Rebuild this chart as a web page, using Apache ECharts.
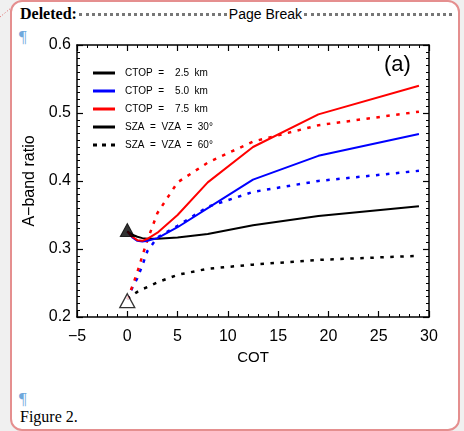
<!DOCTYPE html>
<html>
<head>
<meta charset="utf-8">
<script src="https://cdn.jsdelivr.net/npm/echarts@6/dist/echarts.min.js"></script>
<style>
  html, body { margin: 0; padding: 0; width: 464px; height: 431px; overflow: hidden; background: #f0f0f0; }
  #frame { position: absolute; left: 10px; top: 0; width: 450px; height: 431px; box-sizing: border-box;
           border: 2px solid #e58f8f; border-radius: 12px; background: #fff; }
  #link { position: absolute; left: 0; top: 0; }
  #del { position: absolute; left: 20px; top: 5px; width: 434px; display: flex; align-items: center;
         font: bold 16px "Liberation Serif", serif; color: #000; }
  #del .dots { flex: 1; height: 0; border-top: 3px dotted #777; margin: 0 2px; }
  #del .pb { font: 14px "Liberation Sans", Arial, sans-serif; font-weight: normal; }
  .pil { position: absolute; font: 17px "Liberation Serif", serif; color: #6fa8dc; }
  #cap { position: absolute; left: 20px; top: 408px; font: 16px "Liberation Serif", serif; color: #000; }
  #chart { position: absolute; left: 0; top: 0; width: 464px; height: 431px; }
</style>
</head>
<body>
<svg id="link" width="14" height="20"><line x1="0" y1="17" x2="11" y2="8" stroke="#e06060" stroke-width="1" stroke-dasharray="1,2"/></svg>
<div id="frame"></div>
<div id="del"><span>Deleted:</span><span class="dots"></span><span class="pb">Page Break</span><span class="dots"></span></div>
<div class="pil" style="left:19px;top:27px;">¶</div>
<div class="pil" style="left:19px;top:389px;">¶</div>
<div id="cap">Figure 2.</div>
<div id="chart"></div>
<script>
// Cloud optical thickness sampled along each curve
const cot = [0, 0.5, 1, 1.5, 2, 3, 5, 8, 12.5, 19, 29];

// A-band ratio, SZA = VZA = 30 deg
const ratio25_30 = [0.326, 0.321, 0.318, 0.316, 0.315, 0.315, 0.317, 0.322, 0.335, 0.3485, 0.363];
const ratio50_30 = [0.326, 0.317, 0.312, 0.311, 0.312, 0.316, 0.332, 0.360, 0.402, 0.437, 0.469];
const ratio75_30 = [0.326, 0.318, 0.313, 0.312, 0.315, 0.324, 0.350, 0.398, 0.450, 0.498, 0.540];

// A-band ratio, SZA = VZA = 60 deg
const ratio25_60 = [0.226, 0.232, 0.237, 0.241, 0.244, 0.251, 0.262, 0.271, 0.277, 0.284, 0.290];
const ratio50_60 = [0.226, 0.243, 0.257, 0.276, 0.297, 0.317, 0.334, 0.362, 0.384, 0.400, 0.415];
const ratio75_60 = [0.226, 0.245, 0.266, 0.290, 0.313, 0.353, 0.398, 0.427, 0.458, 0.482, 0.502];

// Clear-sky reference points (COT = 0)
const clearCot = [0];
const clear30 = [0.328];
const clear60 = [0.224];

// Legend entries
const legendLabels = ['CTOP  =    2.5  km', 'CTOP  =    5.0  km', 'CTOP  =    7.5  km',
                      'SZA  =  VZA  =  30°', 'SZA  =  VZA  =  60°'];

const FONT = '"Liberation Sans", Arial, Helvetica, sans-serif';
const DOT = [3.5, 6.5];
const legendColors = ['#000000', '#0000ff', '#ff0000', '#000000', '#000000'];
const legendDashed = [false, false, false, false, true];

const pairs = ys => cot.map((c, i) => [c, ys[i]]);

function curve(name, ys, color, dashed) {
  return {
    type: 'line', name: name, data: pairs(ys), symbol: 'none', showSymbol: false,
    xAxisIndex: 0, yAxisIndex: 0, silent: true,
    lineStyle: { color: color, width: dashed ? 2.5 : 2, type: dashed ? DOT : 'solid', cap: 'butt' },
    z: dashed ? 2 : 3
  };
}

function xAx(pos, labels) {
  return {
    type: 'value', min: -5, max: 30, interval: 5, position: pos,
    name: labels ? 'COT' : '', nameLocation: 'middle', nameGap: 33,
    nameTextStyle: { fontSize: 15, color: '#000', fontFamily: FONT },
    axisLine: { show: true, onZero: false, lineStyle: { color: '#000', width: 1.5 } },
    axisTick: { show: true, inside: true, length: 6, lineStyle: { color: '#000', width: 1.2 } },
    minorTick: { show: true, splitNumber: 5, length: 3, lineStyle: { color: '#000', width: 1 } },
    axisLabel: { show: labels, margin: 12, fontSize: 16, color: '#000', fontFamily: FONT,
                 formatter: v => String(v).replace('-', '\u2212') },
    splitLine: { show: false }, minorSplitLine: { show: false }
  };
}

function yAx(pos, labels) {
  return {
    type: 'value', min: 0.2, max: 0.6, interval: 0.1, position: pos,
    name: labels ? 'A\u2212band ratio' : '', nameLocation: 'middle', nameGap: 38, nameRotate: 90,
    nameTextStyle: { fontSize: 16, color: '#000', fontFamily: FONT },
    axisLine: { show: true, onZero: false, lineStyle: { color: '#000', width: 1.5 } },
    axisTick: { show: true, inside: true, length: 6, lineStyle: { color: '#000', width: 1.2 } },
    minorTick: { show: true, splitNumber: 10, length: 3, lineStyle: { color: '#000', width: 1 } },
    axisLabel: { show: labels, margin: 6, fontSize: 16, color: '#000', fontFamily: FONT,
                 formatter: v => v.toFixed(1) },
    splitLine: { show: false }, minorSplitLine: { show: false }
  };
}

// Key drawn as sample lines with their captions, inside the plot's upper left
const keyItems = [];
legendLabels.forEach((label, i) => {
  const y = 73 + 18 * i;
  keyItems.push({
    type: 'line', silent: true, z: 10,
    shape: { x1: 93, y1: y, x2: 115, y2: y },
    style: { stroke: legendColors[i], lineWidth: 3, lineDash: legendDashed[i] ? [4, 5] : null }
  });
  keyItems.push({
    type: 'text', silent: true, z: 10, x: 125, y: y,
    style: { text: label, font: '10px ' + FONT, fill: '#000', verticalAlign: 'middle', align: 'left' }
  });
});
keyItems.push({
  type: 'text', silent: true, z: 10, x: 384, y: 54,
  style: { text: '(a)', font: '22px ' + FONT, fill: '#000' }
});

const chart = echarts.init(document.getElementById('chart'), null, { renderer: 'canvas' });
chart.setOption({
  animation: false,
  backgroundColor: 'transparent',
  grid: { left: 77, right: 35, top: 45, bottom: 114, containLabel: false },
  xAxis: [xAx('bottom', true), xAx('top', false)],
  yAxis: [yAx('left', true), yAx('right', false)],
  graphic: keyItems,
  series: [
    curve('2.5 km, 60°', ratio25_60, '#000000', true),
    curve('5.0 km, 60°', ratio50_60, '#0000ff', true),
    curve('7.5 km, 60°', ratio75_60, '#ff0000', true),
    curve('2.5 km, 30°', ratio25_30, '#000000', false),
    curve('5.0 km, 30°', ratio50_30, '#0000ff', false),
    curve('7.5 km, 30°', ratio75_30, '#ff0000', false),
    {
      type: 'scatter', name: 'clear 30°', data: clearCot.map((c, i) => [c, clear30[i]]),
      symbol: 'triangle', symbolSize: [14, 13], silent: true, z: 5,
      itemStyle: { color: '#000', borderColor: '#000', borderWidth: 1 }
    },
    {
      type: 'scatter', name: 'clear 60°', data: clearCot.map((c, i) => [c, clear60[i]]),
      symbol: 'triangle', symbolSize: [15, 14], silent: true, z: 5,
      itemStyle: { color: '#ffffff', borderColor: '#000', borderWidth: 1.3 }
    }
  ]
});
</script>
</body>
</html>
